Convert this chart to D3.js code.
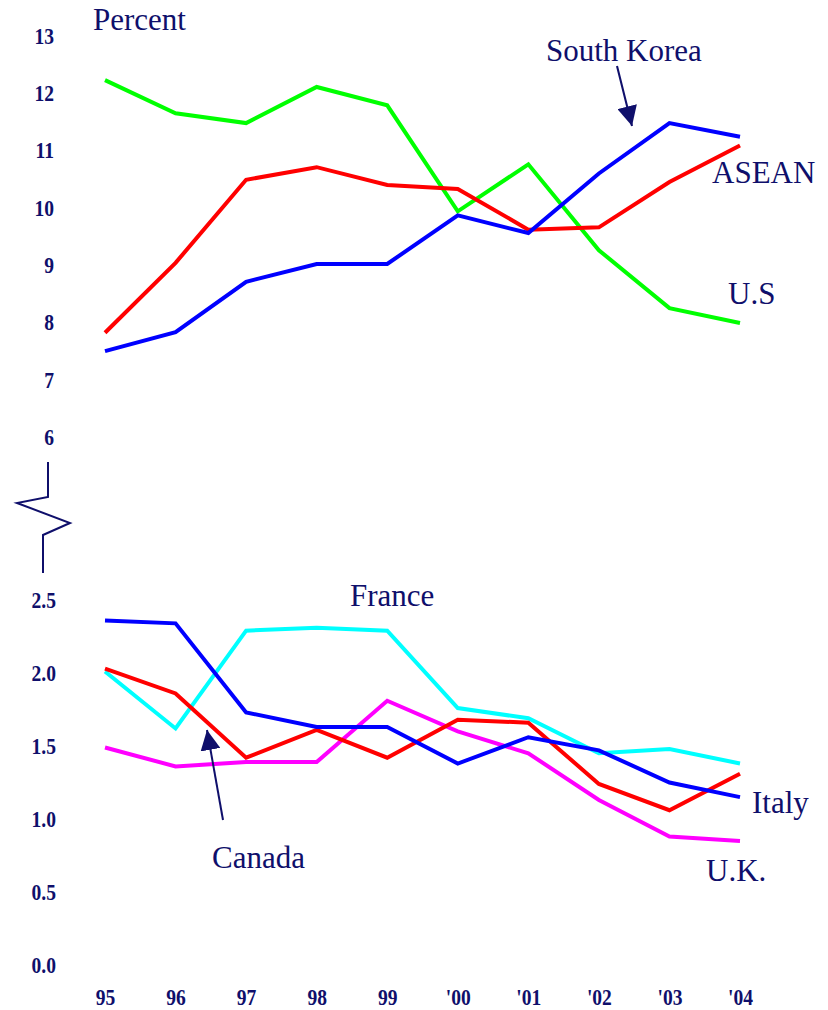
<!DOCTYPE html>
<html>
<head>
<meta charset="utf-8">
<script src="https://cdn.jsdelivr.net/npm/d3@7"></script>
<style>
  body { margin: 0; background: #fff; }
  svg { display: block; }
  .tick text { font-family: "Liberation Serif", "Times New Roman", serif; font-weight: bold; fill: #0f0f6b; }
  .lbl { font-family: "Liberation Serif", "Times New Roman", serif; fill: #0f0f6b; }
</style>
</head>
<body>
<script>
// data
const years = ["95", "96", "97", "98", "99", "'00", "'01", "'02", "'03", "'04"];

// upper panel (percent)
const usValues     = [12.23, 11.65, 11.48, 12.11, 11.79, 9.94, 10.76, 9.26, 8.25, 7.99];
const aseanValues  = [7.82, 9.04, 10.49, 10.71, 10.40, 10.33, 9.62, 9.66, 10.45, 11.09];
const koreaValues  = [7.50, 7.83, 8.71, 9.02, 9.02, 9.87, 9.56, 10.60, 11.48, 11.24];
const topTicks = [6, 7, 8, 9, 10, 11, 12, 13];

// lower panel (percent)
const franceValues = [2.01, 1.62, 2.29, 2.31, 2.29, 1.76, 1.69, 1.45, 1.48, 1.38];
const canadaValues = [2.03, 1.86, 1.42, 1.61, 1.42, 1.68, 1.66, 1.24, 1.06, 1.31];
const italyValues  = [2.36, 2.34, 1.73, 1.63, 1.63, 1.38, 1.56, 1.47, 1.25, 1.15];
const ukValues     = [1.49, 1.36, 1.39, 1.39, 1.81, 1.60, 1.45, 1.13, 0.88, 0.85];
const bottomTicks = [0, 0.5, 1.0, 1.5, 2.0, 2.5];

const width = 828, height = 1010;
const navy = "#0f0f6b";

const svg = d3.select("body").append("svg")
  .attr("width", width).attr("height", height);

// scales
const x = d3.scalePoint().domain(years).range([105, 740]);
const yTop = d3.scaleLinear().domain([6, 13]).range([437, 36]);
const yBot = d3.scaleLinear().domain([0, 2.5]).range([965, 600]);

// axes show labels only; the glyphs in the original are narrow and tall
function styleAxis(g){
  g.select(".domain").remove();
  g.selectAll(".tick line").remove();
  g.selectAll(".tick text").attr("font-size", 23).attr("transform", "scale(0.85,1)");
}
svg.append("g").attr("transform", "translate(54,0)")
  .call(d3.axisLeft(yTop).tickValues(topTicks).tickFormat(d3.format("d")).tickSize(0).tickPadding(0))
  .call(styleAxis);
svg.append("g").attr("transform", "translate(56,0)")
  .call(d3.axisLeft(yBot).tickValues(bottomTicks).tickFormat(d3.format(".1f")).tickSize(0).tickPadding(0))
  .call(styleAxis);
svg.append("g").attr("transform", "translate(0,983)")
  .call(d3.axisBottom(x).tickSize(0).tickPadding(6))
  .call(styleAxis);

// axis break zigzag
const breakPts = [[48, 462], [48, 497], [17, 503], [70, 523], [43, 535], [43, 573]];
svg.append("path").attr("d", d3.line()(breakPts))
  .attr("fill", "none").attr("stroke", navy).attr("stroke-width", 2);

// lines
const line = scale => d3.line().x((d, i) => x(years[i])).y(d => scale(d));
const series = [
  {values: usValues, color: "#00ff00", scale: yTop},
  {values: aseanValues, color: "#ff0000", scale: yTop},
  {values: koreaValues, color: "#0000ff", scale: yTop},
  {values: franceValues, color: "#00ffff", scale: yBot},
  {values: ukValues, color: "#ff00ff", scale: yBot},
  {values: canadaValues, color: "#ff0000", scale: yBot},
  {values: italyValues, color: "#0000ff", scale: yBot}
];
svg.append("g").selectAll("path").data(series).join("path")
  .attr("d", s => line(s.scale)(s.values))
  .attr("fill", "none")
  .attr("stroke", s => s.color)
  .attr("stroke-width", 4)
  .attr("stroke-linejoin", "miter");

// labels
const labels = [
  {text: "Percent", x: 93, y: 30},
  {text: "South Korea", x: 546, y: 61},
  {text: "ASEAN", x: 712, y: 183},
  {text: "U.S", x: 728, y: 304},
  {text: "France", x: 350, y: 606},
  {text: "Canada", x: 212, y: 868},
  {text: "Italy", x: 752, y: 813},
  {text: "U.K.", x: 706, y: 881}
];
svg.append("g").selectAll("text").data(labels).join("text")
  .attr("class", "lbl")
  .attr("x", d => d.x).attr("y", d => d.y)
  .attr("font-size", 31)
  .text(d => d.text);

// arrows
svg.append("defs").append("marker")
  .attr("id", "head").attr("viewBox", "0 0 10 10")
  .attr("refX", 10).attr("refY", 5)
  .attr("markerWidth", 20).attr("markerHeight", 20)
  .attr("markerUnits", "userSpaceOnUse")
  .attr("orient", "auto")
  .append("path").attr("d", "M0,0 L10,5 L0,10 Z").attr("fill", navy);
svg.selectAll("line.arrow").data([[617, 66, 632, 126], [223, 820, 207, 730]]).join("line")
  .attr("class", "arrow")
  .attr("x1", d => d[0]).attr("y1", d => d[1])
  .attr("x2", d => d[2]).attr("y2", d => d[3])
  .attr("stroke", navy).attr("stroke-width", 2)
  .attr("marker-end", "url(#head)");
</script>
</body>
</html>
